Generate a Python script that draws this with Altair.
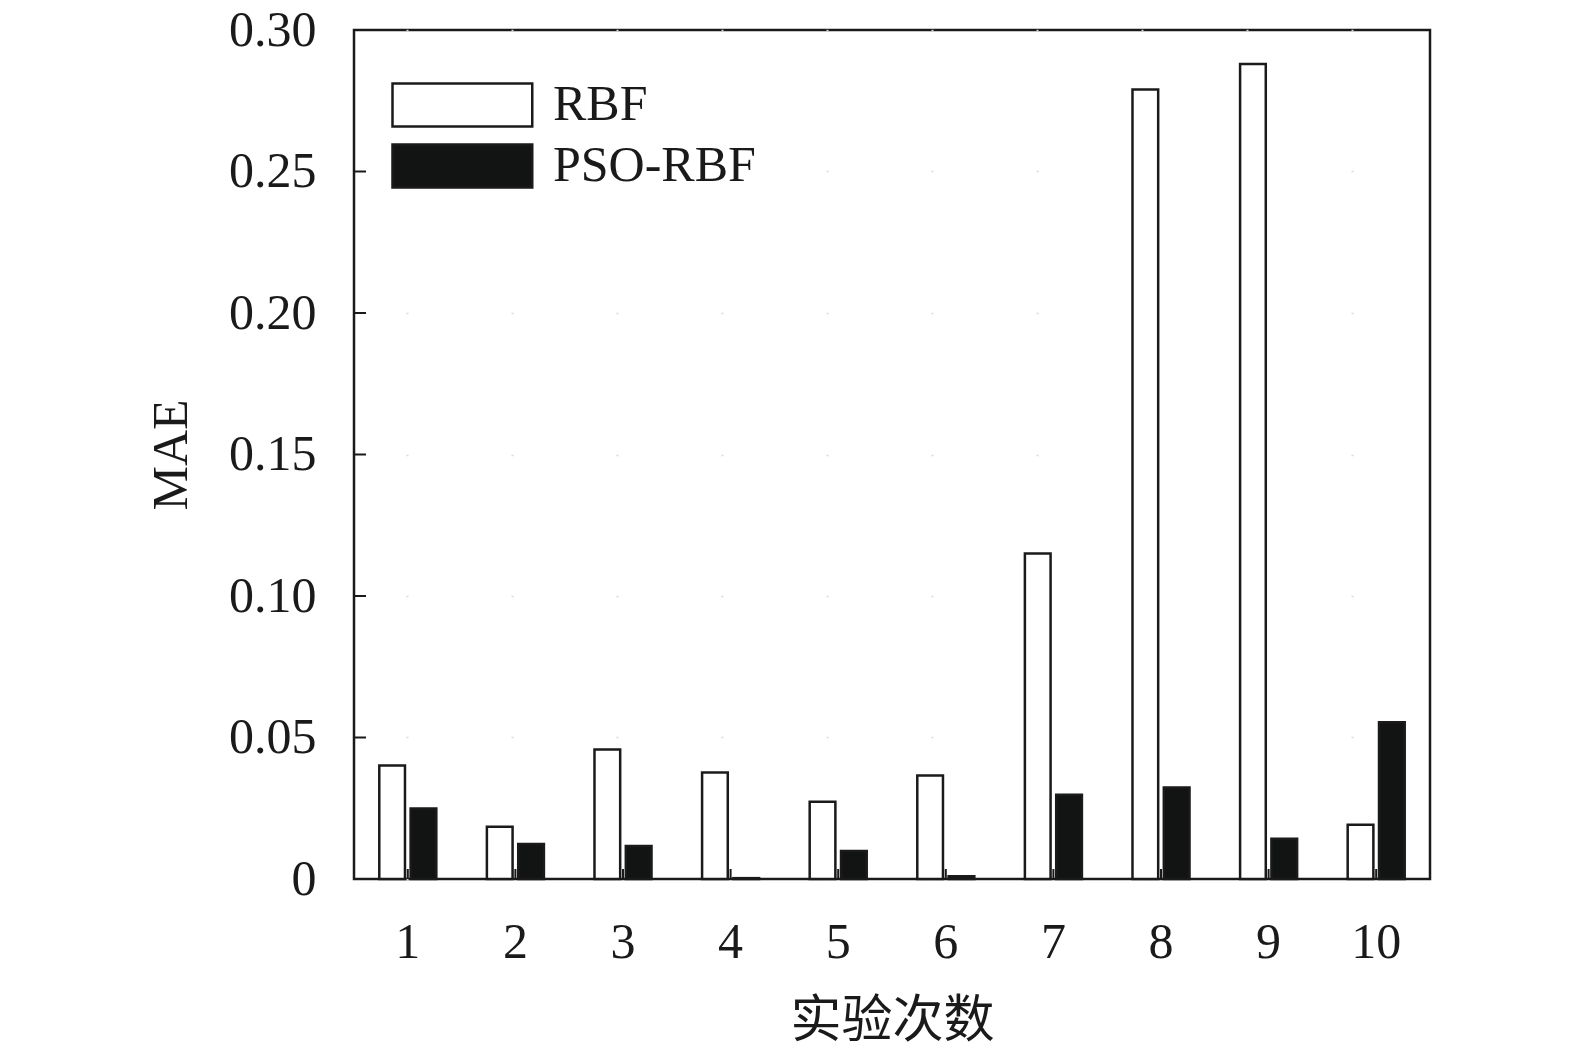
import altair as alt
import pandas as pd

runs = ["1", "2", "3", "4", "5", "6", "7", "8", "9", "10"]
rbf = [0.0401, 0.0185, 0.0458, 0.0376, 0.0273, 0.0366, 0.1150, 0.2790, 0.2880, 0.0192]
pso = [0.0249, 0.0124, 0.0117, 0.0003, 0.0099, 0.0010, 0.0298, 0.0323, 0.0142, 0.0554]
series = ["RBF", "PSO-RBF"]
y_ticks = [0, 0.05, 0.10, 0.15, 0.20, 0.25, 0.30]

rows = []
for i, r in enumerate(runs):
    rows.append({"run": r, "model": series[0], "mae": rbf[i]})
    rows.append({"run": r, "model": series[1], "mae": pso[i]})
df = pd.DataFrame(rows)
ticks_df = pd.DataFrame({"v": y_ticks})
runs_df = pd.DataFrame({"run": runs})

W, H = 1076, 849
SERIF = "Liberation Serif"
INK = "#1a1a1a"

x_enc = alt.X("run:N", sort=runs, title="实验次数",
              scale=alt.Scale(paddingInner=0.47, paddingOuter=0.235),
              axis=alt.Axis(labelAngle=0, labelFont=SERIF, labelFontSize=50,
                            labelColor=INK, labelPadding=38, ticks=False, domain=False,
                            titleFont="Noto Sans CJK SC", titleFontSize=51,
                            titleFontWeight="normal", titleColor=INK, titlePadding=29))
y_scale = alt.Scale(domain=[0, 0.3], nice=False, zero=True)
y_axis = alt.Axis(values=y_ticks, title="MAE",
                  labelExpr="datum.value == 0 ? '0' : format(datum.value, '.2f')",
                  labelFont=SERIF, labelFontSize=50, labelColor=INK, labelPadding=38,
                  ticks=False, domain=False,
                  grid=True, gridColor="#d8d8d8", gridWidth=1.5,
                  gridDash=[2, 103], gridDashOffset=-52,
                  titleFont=SERIF, titleFontSize=50, titleFontWeight="normal",
                  titleColor=INK, titlePadding=32)

bars = alt.Chart(df).mark_bar(stroke=INK, strokeWidth=2.5).encode(
    x=x_enc,
    xOffset=alt.XOffset("model:N", sort=series,
                        scale=alt.Scale(paddingInner=0.18, paddingOuter=0)),
    y=alt.Y("mae:Q", scale=y_scale, axis=y_axis),
    fill=alt.Fill("model:N", sort=series,
                  scale=alt.Scale(domain=series, range=["#ffffff", "#121413"]),
                  legend=alt.Legend(title=None, orient="none", legendX=35, legendY=50,
                                    symbolType="M-1,-1L5.5,-1L5.5,1L-1,1Z",
                                    symbolSize=1849, symbolStrokeColor=INK,
                                    symbolStrokeWidth=2.5, labelFont=SERIF,
                                    labelFontSize=50, labelColor=INK, labelOffset=114,
                                    rowPadding=7, labelLimit=400)),
)

yticks = alt.Chart(ticks_df).mark_rule(color=INK, strokeWidth=2).encode(
    y=alt.Y("v:Q", scale=y_scale),
    x=alt.value(0), x2=alt.value(12),
)

xticks = alt.Chart(runs_df).mark_rule(color=INK, strokeWidth=2).encode(
    x=alt.X("run:N", sort=runs),
    y=alt.value(H), y2=alt.value(H - 10),
)

chart = alt.layer(bars, yticks, xticks).properties(
    width=W, height=H,
    autosize=alt.AutoSizeParams(type="none"),
    padding={"left": 346, "top": 22, "right": 100, "bottom": 176},
    background="white",
).configure_view(stroke=INK, strokeWidth=2.5)

chart.save("out.html", embed_options={"renderer": "svg", "actions": False})
